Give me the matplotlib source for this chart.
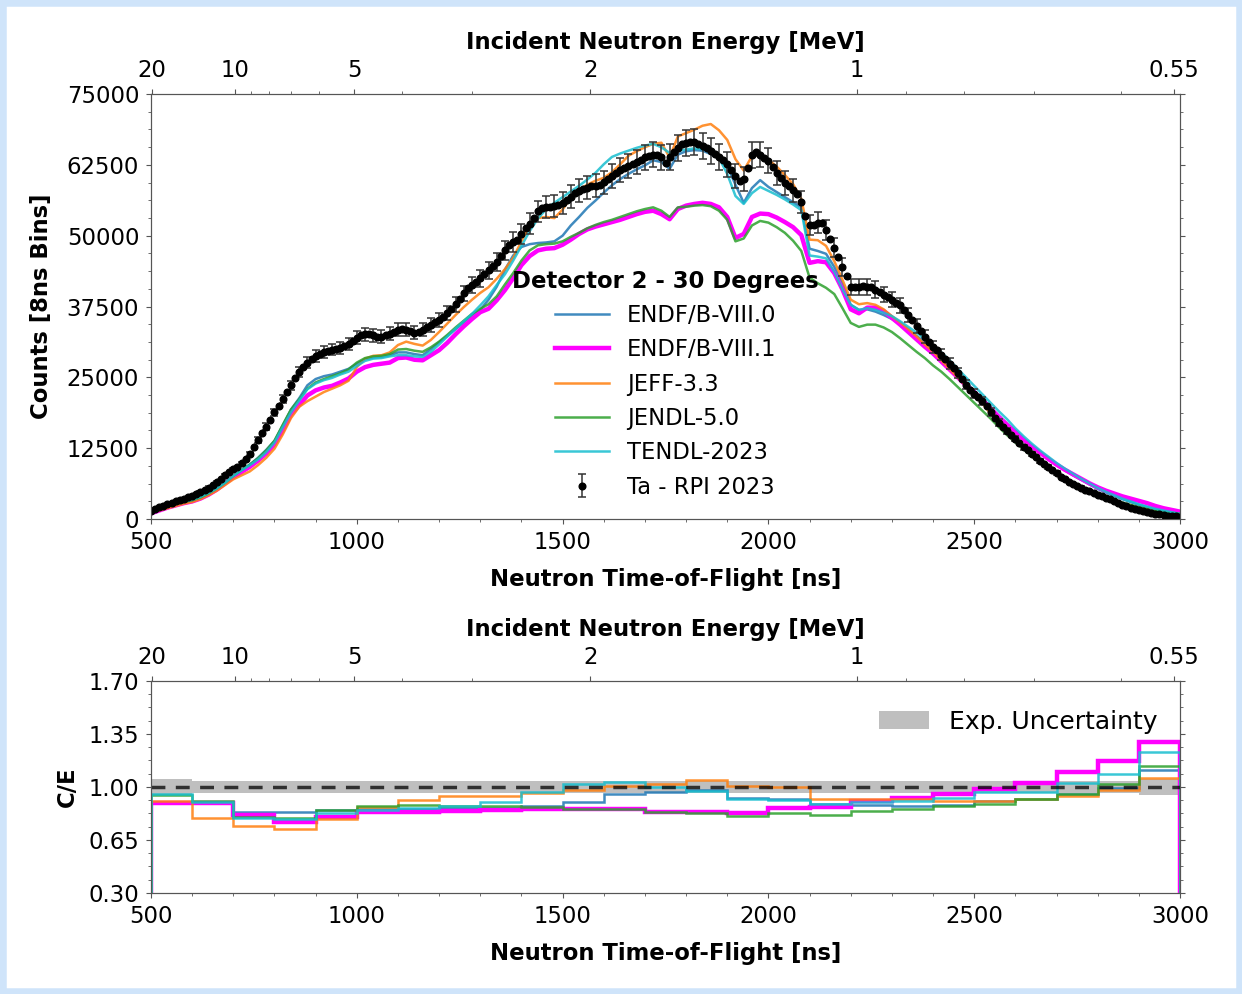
import numpy as np
import matplotlib.pyplot as plt
from matplotlib.ticker import AutoMinorLocator, FixedLocator, NullFormatter
from matplotlib.patches import Rectangle

# ---------------- experimental data (Ta, detector 2, 30 deg) ----------------
tof_exp = np.arange(500, 3001, 10)
counts_exp = [
    1500, 1750, 2050, 2300, 2600, 2850, 3100, 3350, 3600, 3850,
    4050, 4400, 4750, 5150, 5550, 6000, 6550, 7100, 7700, 8250,
    8750, 9250, 9800, 10600, 11500, 12700, 13900, 15100, 16300, 17500,
    18800, 20000, 21200, 22400, 23600, 24800, 25900, 26900, 27600, 28300,
    28800, 29200, 29500, 29700, 29900, 30000, 30200, 30500, 30900, 31400,
    32000, 32500, 32600, 32600, 32400, 32200, 32200, 32400, 32700, 33000,
    33400, 33500, 33400, 33200, 32900, 33000, 33400, 33800, 34200, 34700,
    35100, 35700, 36400, 37100, 37900, 38800, 39800, 40700, 41300, 41800,
    42500, 43200, 43900, 44700, 45400, 46400, 47400, 48300, 48900, 49300,
    50300, 51300, 52100, 53200, 54300, 54900, 55000, 55100, 55200, 55400,
    55700, 56300, 56900, 57500, 57900, 58300, 58500, 58700, 58800, 58900,
    59400, 60000, 60600, 61100, 61600, 62000, 62300, 62700, 63000, 63400,
    63800, 64100, 64300, 64300, 63800, 62800, 63900, 64800, 65500, 66100,
    66400, 66600, 66500, 66200, 65800, 65400, 64900, 64400, 63900, 63400,
    62600, 61600, 60500, 59600, 60000, 62000, 64200, 64800, 64300, 63700,
    63200, 62100, 61100, 60200, 59300, 58700, 58000, 57300, 56000, 53500,
    51900, 51900, 52300, 52300, 51000, 49500, 47900, 46300, 44500, 42800,
    41000, 40900, 41000, 41100, 41000, 40900, 40500, 40100, 39600, 39200,
    38700, 38200, 37700, 36900, 36000, 35100, 34100, 33200, 32200, 31200,
    30400, 29800, 29000, 28200, 27400, 26600, 25700, 24700, 23700, 22800,
    22100, 21500, 20800, 19900, 18900, 17900, 17000, 16300, 15600, 14900,
    14200, 13500, 12700, 12100, 11500, 10900, 10300, 9700, 9200, 8700,
    8100, 7500, 7000, 6600, 6200, 5900, 5550, 5200, 4900, 4600,
    4300, 4050, 3750, 3450, 3150, 2850, 2550, 2250, 2000, 1750,
    1550, 1350, 1200, 1050, 900, 800, 700, 600, 500, 450, 400,
]
exp_rel_unc = 0.035

# ---------------- calculated curves ----------------
tof_calc = np.arange(500, 3001, 20)
endf80 = [
    1300, 1800, 2300, 2700, 3100, 3400, 3900, 4500, 5300, 6300,
    7500, 8600, 9600, 10800, 12200, 13800, 16500, 19300, 21300, 23600,
    24700, 25200, 25500, 26000, 26500, 27400, 28200, 28500, 28600, 28900,
    29400, 29400, 29100, 28900, 30000, 31200, 32300, 33500, 34700, 35800,
    36900, 38700, 41000, 44000, 46500, 48000, 48500, 48700, 48800, 49000,
    50000, 51800, 53300, 54900, 56200, 57600, 58900, 60000, 60900, 61700,
    62400, 63300, 63000, 61800, 64300, 64900, 65100, 65000, 64400, 63600,
    62300, 59000, 55800, 58400, 59800, 58600, 57700, 56800, 55900, 55000,
    47700, 47300, 46800, 44500, 41500, 37800, 36900, 37000, 36600, 36000,
    35300, 34400, 33400, 32300, 31200, 30000, 28600, 27100, 25600, 24100,
    22600, 21100, 19600, 18200, 16800, 15400, 14100, 12900, 11700, 10600,
    9500, 8600, 7700, 6900, 6100, 5300, 4700, 4100, 3500, 3000,
    2500, 2100, 1700, 1400, 1100, 850,
]
endf81 = [
    1000, 1500, 2000, 2400, 2800, 3100, 3600, 4300, 5200, 6300,
    7400, 8300, 9200, 10300, 11600, 13200, 15600, 18400, 20100, 21800,
    22700, 23200, 23500, 24100, 24800, 26000, 26800, 27200, 27400, 27600,
    28400, 28500, 28100, 28000, 28900, 29800, 31100, 32600, 34000, 35300,
    36500, 37100, 38600, 40400, 42500, 44800, 46400, 47400, 47700, 47800,
    48400, 49300, 50300, 51100, 51600, 52000, 52400, 52800, 53300, 53800,
    54200, 54400, 53800, 52900, 54700, 55300, 55600, 55800, 55600, 55000,
    53300, 49600, 50300, 53300, 53900, 53800, 53200, 52400, 51500, 50100,
    45200, 45500, 45300, 43400, 40500, 37000, 36300, 37300, 37300, 36700,
    35500, 34300, 33000, 31700, 30400, 29200, 27800, 26400, 25000, 23600,
    22400, 21000, 19500, 18000, 16600, 15400, 14000, 12800, 11700, 10600,
    9600, 8700, 7900, 7100, 6300, 5600, 5000, 4500, 4000, 3600,
    3200, 2800, 2300, 1900, 1600, 1300,
]
jeff33 = [
    1100, 1500, 1900, 2300, 2700, 3000, 3500, 4200, 5000, 6000,
    7000, 7700, 8400, 9500, 10800, 12400, 14900, 17800, 19800, 20800,
    21600, 22400, 23000, 23600, 24400, 26800, 28300, 28800, 28900, 29400,
    30700, 31300, 30900, 30600, 31600, 33000, 34500, 36000, 37400, 38700,
    39900, 40900, 42400, 44100, 46100, 49000, 51800, 53100, 53300, 53100,
    54600, 56700, 58100, 59000, 59700, 60200, 61200, 62600, 64100, 64900,
    65600, 66200, 66400, 63800, 67500, 68100, 68700, 69400, 69700, 68600,
    66900, 63500, 61500, 64000, 64300, 63400, 62200, 60700, 59100, 56500,
    49300, 49200, 48200, 45500, 42200, 38700, 37900, 38100, 37800, 37000,
    35800, 34700, 33500, 32200, 30800, 29500, 28000, 26500, 25000, 23500,
    22100, 20400, 18600, 16900, 15300, 13900, 12500, 11200, 10000, 8900,
    7900, 7000, 6200, 5500, 4800, 4200, 3700, 3200, 2800, 2400,
    2000, 1700, 1400, 1100, 900, 700,
]
jendl50 = [
    1300, 1800, 2300, 2700, 3000, 3300, 3800, 4500, 5400, 6400,
    7600, 8600, 9600, 10700, 12100, 13800, 16600, 19300, 21100, 23000,
    24100, 24700, 25200, 25700, 26400, 27600, 28400, 28700, 28800, 29100,
    29900, 30000, 29700, 29500, 30300, 31300, 32500, 33800, 35000, 36200,
    37100, 37900, 39300, 41400, 43400, 45600, 47400, 48300, 48500, 48600,
    49000, 49800, 50500, 51300, 51900, 52400, 52800, 53300, 53800, 54300,
    54700, 55000, 54400, 53300, 55000, 55100, 55300, 55400, 55200, 54400,
    52800, 49000, 49500, 51800, 52600, 52300, 51500, 50500, 49100, 47300,
    42600, 41600, 40800, 39700, 37200, 34600, 33900, 34300, 34300, 33800,
    33000, 31900, 30700, 29500, 28400, 27100, 26000, 24700, 23300, 21900,
    20500, 19100, 17700, 16200, 14800, 13500, 12300, 11100, 10000, 9000,
    8100, 7300, 6500, 5700, 5000, 4400, 3900, 3400, 2900, 2500,
    2100, 1800, 1500, 1300, 1100, 950,
]
tendl23 = [
    1300, 1800, 2300, 2700, 3100, 3400, 3900, 4600, 5400, 6400,
    7600, 8600, 9500, 10500, 11800, 13500, 16200, 18800, 20900, 22900,
    23900, 24500, 24900, 25500, 26000, 27000, 27900, 28300, 28400, 28700,
    28900, 28900, 28700, 28600, 29500, 30800, 32200, 33600, 34900, 36200,
    37700, 39300, 41300, 43200, 45600, 48200, 50800, 53000, 54700, 55800,
    56800, 57800, 58800, 59900, 61100, 62600, 63900, 64500, 65000, 65500,
    65900, 66200, 65600, 64600, 65000, 65200, 65400, 65300, 64800, 63700,
    60900, 57000, 55600, 57500, 58600, 57900, 57200, 56400, 55500, 54500,
    46500, 46300, 46000, 43600, 40500, 37800, 36900, 37200, 36900, 36400,
    35800, 34900, 33900, 32900, 31800, 30700, 29400, 28000, 26500, 25000,
    23500, 22000, 20500, 19000, 17600, 16000, 14600, 13300, 12100, 11000,
    9900, 8900, 8000, 7100, 6300, 5500, 4800, 4200, 3600, 3100,
    2600, 2200, 1800, 1500, 1200, 900,
]

# ---------------- C/E in 100 ns bins ----------------
ce_edges = np.arange(500, 3001, 100)
ce_endf80 = [0.900, 0.900, 0.832, 0.832, 0.851, 0.853, 0.858, 0.862, 0.864, 0.875,
             0.903, 0.952, 0.969, 0.978, 0.930, 0.920, 0.890, 0.880, 0.872, 0.879,
             0.905, 0.920, 0.955, 0.996, 1.110]
ce_endf81 = [0.893, 0.895, 0.814, 0.766, 0.800, 0.832, 0.836, 0.842, 0.845, 0.853,
             0.858, 0.853, 0.837, 0.835, 0.830, 0.864, 0.868, 0.905, 0.927, 0.956,
             0.989, 1.029, 1.099, 1.170, 1.300]
ce_jeff33 = [0.906, 0.797, 0.744, 0.722, 0.786, 0.870, 0.917, 0.941, 0.941, 0.958,
             0.978, 1.005, 1.022, 1.044, 1.007, 1.000, 0.919, 0.923, 0.918, 0.910,
             0.910, 0.923, 0.943, 0.978, 1.059]
ce_jendl50 = [0.948, 0.908, 0.800, 0.797, 0.847, 0.873, 0.880, 0.875, 0.875, 0.869,
              0.857, 0.853, 0.837, 0.826, 0.810, 0.830, 0.813, 0.842, 0.853, 0.875,
              0.890, 0.923, 0.956, 1.018, 1.139]
ce_tendl23 = [0.952, 0.904, 0.797, 0.790, 0.830, 0.851, 0.862, 0.875, 0.900, 0.969,
              1.018, 1.035, 1.000, 0.974, 0.919, 0.912, 0.886, 0.900, 0.908, 0.930,
              0.970, 0.970, 1.029, 1.088, 1.230]
ce_exp_unc = [0.050, 0.042, 0.042, 0.042, 0.042, 0.042, 0.042, 0.042, 0.042, 0.042,
              0.042, 0.042, 0.042, 0.042, 0.042, 0.042, 0.042, 0.042, 0.042, 0.042,
              0.042, 0.042, 0.042, 0.042, 0.050]

# energy ticks for the top axis
e_major = [20, 10, 5, 2, 1, 0.55]
e_minor = [9, 8, 7, 6, 4, 3, 0.9, 0.8, 0.7, 0.6]
FLIGHT_PATH = 30.6  # m


def tof_from_energy(e_mev):
    gamma = 1 + np.asarray(e_mev, dtype=float) / 939.565
    beta = np.sqrt(1 - 1 / gamma**2)
    return FLIGHT_PATH / (beta * 0.299792458)


libs = [
    ("ENDF/B-VIII.0", endf80, ce_endf80, dict(color="#1f77b4", lw=1.8, alpha=0.85)),
    ("ENDF/B-VIII.1", endf81, ce_endf81, dict(color="magenta", lw=3.2)),
    ("JEFF-3.3", jeff33, ce_jeff33, dict(color="#ff7f0e", lw=1.8, alpha=0.85)),
    ("JENDL-5.0", jendl50, ce_jendl50, dict(color="#2ca02c", lw=1.8, alpha=0.85)),
    ("TENDL-2023", tendl23, ce_tendl23, dict(color="#17becf", lw=1.8, alpha=0.85)),
]

FS = 16.4
spine_col = "#555555"

fig = plt.figure(figsize=(12.42, 9.94), dpi=100)
ax1 = fig.add_axes([151 / 1242, 1 - 519 / 994, 1029 / 1242, 425 / 994])
ax2 = fig.add_axes([151 / 1242, 1 - 893 / 994, 1029 / 1242, 212 / 994])


def energy_axis(ax):
    top = ax.twiny()
    top.set_xlim(ax.get_xlim())
    top.xaxis.set_major_locator(FixedLocator(tof_from_energy(e_major)))
    top.set_xticklabels([f"{e:g}" for e in e_major])
    top.xaxis.set_minor_locator(FixedLocator(tof_from_energy(e_minor)))
    top.xaxis.set_minor_formatter(NullFormatter())
    top.tick_params(axis="x", which="both", labelsize=FS, colors="black",
                    color=spine_col, pad=5)
    top.set_xlabel("Incident Neutron Energy [MeV]", fontsize=FS,
                   fontweight="bold", labelpad=7)
    for s in top.spines.values():
        s.set_color(spine_col)
    return top


def style_axis(ax):
    ax.tick_params(axis="both", which="both", labelsize=FS, right=True,
                   color=spine_col, pad=5)
    for s in ax.spines.values():
        s.set_color(spine_col)


# ---------------- top panel ----------------
handles = []
for name, vals, _, st in libs:
    h, = ax1.plot(tof_calc, vals, label=name, **st)
    handles.append(h)

counts_arr = np.array(counts_exp, dtype=float)
eb = ax1.errorbar(tof_exp, counts_arr, yerr=counts_arr * exp_rel_unc, fmt="o",
                  color="black", ms=4.8, ecolor="#333333", elinewidth=1.1,
                  capsize=3, capthick=1.1, errorevery=2, zorder=5,
                  label="Ta - RPI 2023")
handles.append(eb)

ax1.set_xlim(500, 3000)
ax1.set_ylim(0, 75000)
ax1.set_yticks(np.arange(0, 75001, 12500))
ax1.yaxis.set_minor_locator(AutoMinorLocator(4))
ax1.xaxis.set_minor_locator(AutoMinorLocator(5))
style_axis(ax1)
ax1.set_xlabel("Neutron Time-of-Flight [ns]", fontsize=FS, fontweight="bold",
               labelpad=10)
ax1.set_ylabel("Counts [8ns Bins]", fontsize=FS, fontweight="bold", labelpad=10)
ax1.legend(handles=handles, title="Detector 2 - 30 Degrees",
           title_fontproperties={"weight": "bold", "size": FS},
           fontsize=16.3, frameon=False, loc="lower center",
           bbox_to_anchor=(0.5, 0.0), labelspacing=0.5,
           handlelength=2.4, handletextpad=0.8)
energy_axis(ax1)

# ---------------- bottom panel ----------------
unc = np.array(ce_exp_unc)
ax2.stairs(1 + unc, ce_edges, baseline=1 - unc, fill=True, color="gray",
           alpha=0.5, lw=0, label="Exp. Uncertainty")
for name, _, ce, st in libs:
    ax2.stairs(ce, ce_edges, **st)
ax2.axhline(1.0, ls="--", color="black", lw=2.5, alpha=0.75, dashes=(4, 3))
ax2.set_xlim(500, 3000)
ax2.set_ylim(0.30, 1.70)
ax2.set_yticks([0.30, 0.65, 1.00, 1.35, 1.70])
ax2.set_yticklabels([f"{v:.2f}" for v in [0.30, 0.65, 1.00, 1.35, 1.70]])
ax2.yaxis.set_minor_locator(AutoMinorLocator(4))
ax2.xaxis.set_minor_locator(AutoMinorLocator(5))
style_axis(ax2)
ax2.set_xlabel("Neutron Time-of-Flight [ns]", fontsize=FS, fontweight="bold",
               labelpad=10)
ax2.set_ylabel("C/E", fontsize=FS, fontweight="bold", labelpad=7)
ax2.legend(loc="upper right", fontsize=18, frameon=False, handlelength=2.0,
           bbox_to_anchor=(1.0, 0.97))
energy_axis(ax2)

fig.patches.append(Rectangle((0, 0), 1, 1, transform=fig.transFigure,
                             fill=False, edgecolor="#cfe4fa", lw=9))

fig.savefig("out.png", dpi=100)
